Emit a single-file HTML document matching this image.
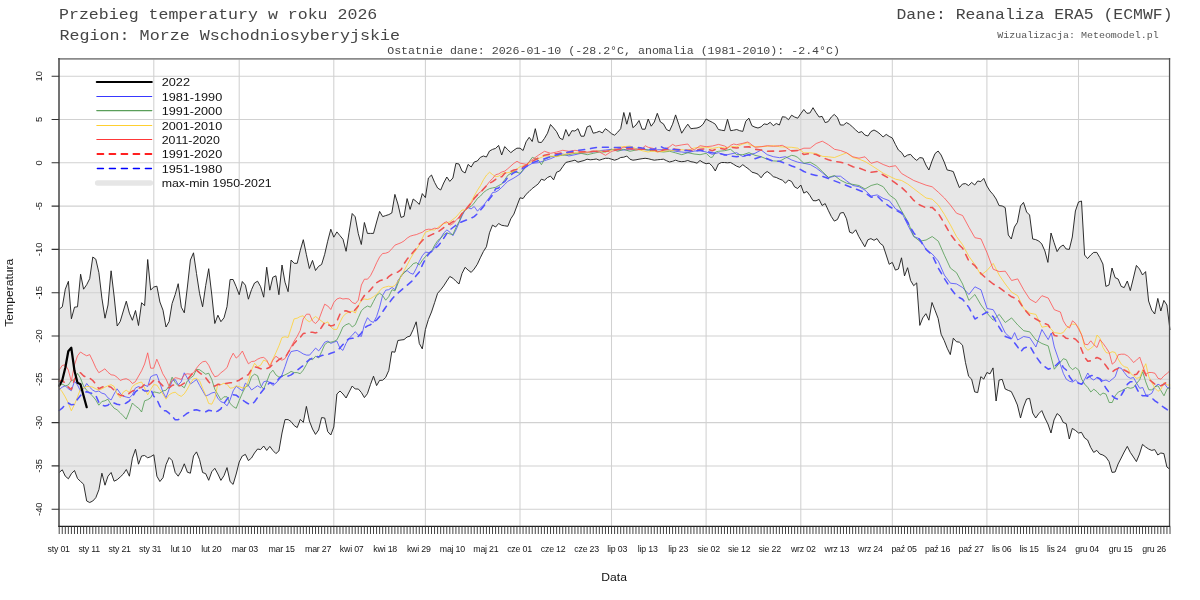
<!DOCTYPE html><html><head><meta charset="utf-8"><title>chart</title>
<style>html,body{margin:0;padding:0;background:#fff}svg{display:block;will-change:transform}text{font-family:"Liberation Sans",sans-serif;fill:#161616}.m{font-family:"Liberation Mono",monospace;fill:#454545}</style></head><body>
<svg width="1200" height="600" viewBox="0 0 1200 600">
<polygon points="59.2,309.2 62.3,306.8 65.3,289.2 68.4,281.3 71.4,318.8 74.5,307.2 77.5,306.8 80.6,274.2 83.6,289.2 86.7,284.7 89.7,278.7 92.8,257.0 95.8,259.2 98.9,272.7 101.9,298.2 105.0,318.2 108.0,305.0 111.1,270.8 114.1,296.0 117.2,326.0 120.2,321.5 123.3,311.0 126.3,301.2 129.4,313.2 132.4,320.3 135.5,310.5 138.5,325.5 141.6,302.7 144.6,305.7 147.7,259.5 150.7,290.0 153.8,287.0 156.9,286.2 159.9,302.0 163.0,310.2 166.0,327.0 169.1,321.5 172.1,303.5 175.2,294.5 178.2,283.7 181.3,307.2 184.3,312.8 187.4,287.0 190.4,260.0 193.5,252.8 196.5,273.5 199.6,293.7 202.6,306.8 205.7,285.5 208.7,268.7 211.8,295.0 214.8,323.5 217.9,315.2 220.9,321.7 224.0,317.8 227.0,306.7 230.1,279.5 233.1,279.5 236.2,286.7 239.2,294.7 242.3,281.5 245.4,285.2 248.4,299.2 251.5,289.7 254.5,283.0 257.6,281.2 260.6,286.7 263.7,297.2 266.7,267.2 269.8,290.2 272.8,277.3 275.9,275.8 278.9,294.7 282.0,265.0 285.0,282.2 288.1,291.7 291.1,260.0 294.2,263.3 297.2,263.3 300.3,250.2 303.3,239.7 306.4,254.7 309.4,268.5 312.5,260.4 315.5,270.5 318.6,266.3 321.6,264.5 324.7,254.3 327.7,241.2 330.8,229.2 333.8,237.2 336.9,231.9 340.0,235.7 343.0,239.3 346.1,251.3 349.1,232.2 352.2,213.5 355.2,216.8 358.3,233.7 361.3,244.5 364.4,222.5 367.4,233.4 370.5,233.4 373.5,233.4 376.6,222.0 379.6,211.4 382.7,216.6 385.7,215.6 388.8,214.6 391.8,213.0 394.9,194.4 397.9,204.0 401.0,217.4 404.0,216.4 407.1,198.6 410.1,209.4 413.2,199.0 416.2,201.4 419.3,204.4 422.3,193.6 425.4,197.6 428.4,178.0 431.5,175.0 434.6,182.4 437.6,188.0 440.7,190.0 443.7,183.0 446.8,177.0 449.8,181.4 452.9,178.0 455.9,163.4 459.0,164.0 462.0,171.0 465.1,173.0 468.1,164.4 471.2,167.0 474.2,162.0 477.3,161.0 480.3,157.4 483.4,156.0 486.4,157.0 489.5,151.0 492.5,149.4 495.6,148.4 498.6,145.4 501.7,155.0 504.7,146.6 507.8,149.7 510.8,152.7 513.9,150.2 516.9,148.2 520.0,148.2 523.1,150.5 526.1,141.8 529.2,137.3 532.2,141.5 535.3,128.7 538.3,142.2 541.4,142.5 544.4,138.5 547.5,133.2 550.5,124.5 553.6,128.0 556.6,131.7 559.7,138.0 562.7,139.7 565.8,129.5 568.8,136.2 571.9,130.7 574.9,131.0 578.0,128.7 581.0,136.2 584.1,136.2 587.1,126.9 590.2,125.7 593.2,133.2 596.3,132.5 599.3,131.3 602.4,132.9 605.4,128.7 608.5,131.0 611.5,133.7 614.6,135.2 617.7,132.2 620.7,128.7 623.8,112.5 626.8,124.2 629.9,112.5 632.9,127.7 636.0,125.0 639.0,120.5 642.1,129.2 645.1,129.2 648.2,119.0 651.2,126.2 654.3,122.0 657.3,113.3 660.4,122.0 663.4,123.8 666.5,129.5 669.5,131.0 672.6,124.2 675.6,114.9 678.7,124.2 681.7,133.2 684.8,128.3 687.8,124.2 690.9,128.7 693.9,128.3 697.0,128.0 700.0,126.9 703.1,124.2 706.1,119.0 709.2,120.8 712.3,122.3 715.3,124.2 718.4,129.5 721.4,130.2 724.5,130.7 727.5,119.3 730.6,130.7 733.6,130.2 736.7,129.5 739.7,130.7 742.8,131.4 745.8,121.2 748.9,118.2 751.9,125.7 755.0,127.2 758.0,128.0 761.1,126.8 764.1,123.9 767.2,124.5 770.2,122.3 773.3,125.7 776.3,123.5 779.4,125.0 782.4,116.7 785.5,117.2 788.5,119.7 791.6,115.2 794.6,117.0 797.7,118.2 800.8,113.7 803.8,109.5 806.9,113.3 809.9,113.0 813.0,107.7 816.0,112.6 819.1,117.0 822.1,116.4 825.2,122.6 828.2,121.6 831.3,117.0 834.3,114.4 837.4,117.6 840.4,125.0 843.5,125.0 846.5,122.6 849.6,124.4 852.6,127.0 855.7,130.0 858.7,132.6 861.8,131.6 864.8,135.0 867.9,136.0 870.9,131.6 874.0,130.0 877.0,131.6 880.1,134.0 883.1,137.0 886.2,134.4 889.2,136.4 892.3,138.0 895.4,144.4 898.4,150.0 901.5,152.4 904.5,157.0 907.6,155.0 910.6,154.4 913.7,158.0 916.7,160.4 919.8,157.6 922.8,158.0 925.9,165.0 928.9,170.0 932.0,161.0 935.0,153.6 938.1,151.0 941.1,155.0 944.2,162.0 947.2,170.0 950.3,170.6 953.3,171.6 956.4,180.0 959.4,187.6 962.5,184.0 965.5,183.6 968.6,185.6 971.6,182.4 974.7,185.0 977.7,181.0 980.8,181.6 983.8,178.4 986.9,186.0 990.0,191.0 993.0,194.4 996.1,199.0 999.1,205.6 1002.2,206.0 1005.2,207.6 1008.3,235.0 1011.3,239.0 1014.4,227.0 1017.4,222.4 1020.5,206.0 1023.5,202.4 1026.6,212.0 1029.6,215.0 1032.7,239.0 1035.7,239.6 1038.8,241.0 1041.8,244.0 1044.9,251.0 1047.9,262.4 1051.0,233.0 1054.0,242.4 1057.1,251.6 1060.1,247.0 1063.2,245.0 1066.2,249.0 1069.3,249.4 1072.3,237.0 1075.4,211.0 1078.5,202.0 1081.5,201.0 1084.6,255.0 1087.6,258.6 1090.7,255.0 1093.7,252.4 1096.8,252.4 1099.8,257.6 1102.9,264.0 1105.9,286.4 1109.0,285.0 1112.0,268.0 1115.1,277.6 1118.1,279.0 1121.2,286.4 1124.2,287.6 1127.3,281.0 1130.3,290.6 1133.4,278.0 1136.4,265.4 1139.5,269.0 1142.5,275.0 1145.6,271.6 1148.6,301.0 1151.7,310.0 1154.7,314.0 1157.8,298.4 1160.8,311.0 1163.9,300.4 1166.9,305.0 1170.0,330.0 1170.0,469.4 1166.9,467.0 1163.9,453.6 1160.8,453.0 1157.8,455.0 1154.7,449.6 1151.7,450.4 1148.6,449.0 1145.6,447.0 1142.5,444.4 1139.5,454.0 1136.4,461.6 1133.4,457.0 1130.3,452.4 1127.3,446.4 1124.2,452.0 1121.2,458.0 1118.1,464.0 1115.1,472.0 1112.0,472.4 1109.0,461.6 1105.9,457.0 1102.9,455.0 1099.8,454.0 1096.8,450.4 1093.7,452.4 1090.7,447.4 1087.6,440.0 1084.6,438.0 1081.5,432.4 1078.5,433.0 1075.4,430.4 1072.3,428.4 1069.3,439.0 1066.2,423.6 1063.2,422.4 1060.1,416.0 1057.1,413.6 1054.0,420.0 1051.0,433.0 1047.9,424.0 1044.9,418.0 1041.8,410.6 1038.8,413.6 1035.7,418.0 1032.7,413.0 1029.6,398.4 1026.6,399.0 1023.5,407.0 1020.5,418.0 1017.4,405.0 1014.4,398.0 1011.3,391.6 1008.3,390.4 1005.2,389.0 1002.2,379.4 999.1,380.0 996.1,401.0 993.0,367.9 990.0,373.9 986.9,372.5 983.8,379.1 980.8,376.7 977.7,392.6 974.7,391.9 971.6,379.1 968.6,376.3 965.5,362.7 962.5,345.2 959.4,342.2 956.4,341.7 953.3,338.2 950.3,354.6 947.2,348.2 944.2,340.5 941.1,334.2 938.1,318.4 935.0,310.2 932.0,302.5 928.9,320.2 925.9,313.7 922.8,317.9 919.8,325.4 916.7,282.9 913.7,285.7 910.6,280.5 907.6,267.7 904.5,275.9 901.5,257.8 898.4,269.0 895.4,270.1 892.3,262.4 889.2,264.3 886.2,255.0 883.1,245.6 880.1,243.3 877.0,238.6 874.0,240.3 870.9,238.6 867.9,239.8 864.8,246.8 861.8,241.7 858.7,236.3 855.7,229.8 852.6,233.3 849.6,232.1 846.5,218.8 843.5,212.5 840.4,213.0 837.4,219.5 834.3,221.1 831.3,216.5 828.2,210.2 825.2,203.6 822.1,205.5 819.1,199.4 816.0,200.8 813.0,200.6 809.9,195.5 806.9,191.5 803.8,193.1 800.8,185.0 797.7,188.5 794.6,186.9 791.6,181.5 788.5,180.0 785.5,183.2 782.4,180.2 779.4,179.0 776.3,177.5 773.3,176.7 770.2,173.7 767.2,171.5 764.1,173.7 761.1,177.8 758.0,174.2 755.0,173.0 751.9,172.2 748.9,169.2 745.8,167.0 742.8,164.7 739.7,167.3 736.7,166.2 733.6,164.3 730.6,162.5 727.5,162.8 724.5,162.5 721.4,162.5 718.4,164.0 715.3,171.0 712.3,166.2 709.2,163.2 706.1,163.7 703.1,162.5 700.0,160.5 697.0,163.2 693.9,162.2 690.9,161.7 687.8,160.5 684.8,161.4 681.7,161.7 678.7,161.3 675.6,160.2 672.6,161.3 669.5,162.0 666.5,160.7 663.4,159.2 660.4,159.5 657.3,159.8 654.3,160.2 651.2,159.5 648.2,158.7 645.1,158.3 642.1,158.7 639.0,159.2 636.0,159.8 632.9,160.2 629.9,159.2 626.8,156.0 623.8,157.2 620.7,157.5 617.7,159.2 614.6,160.2 611.5,159.2 608.5,158.3 605.4,158.3 602.4,159.2 599.3,160.2 596.3,159.0 593.2,159.5 590.2,159.8 587.1,159.2 584.1,160.5 581.0,161.3 578.0,162.2 574.9,160.2 571.9,161.0 568.8,161.7 565.8,162.5 562.7,166.7 559.7,171.0 556.6,172.2 553.6,179.9 550.5,176.1 547.5,177.5 544.4,180.3 541.4,179.2 538.3,183.8 535.3,186.2 532.2,188.5 529.2,191.5 526.1,194.3 523.1,198.5 520.0,197.8 516.9,206.0 513.9,214.1 510.8,218.8 507.8,226.3 504.7,225.8 501.7,225.3 498.6,223.5 495.6,227.0 492.5,225.1 489.5,232.8 486.4,246.8 483.4,251.5 480.3,257.8 477.3,264.3 474.2,269.0 471.2,272.4 468.1,270.1 465.1,267.3 462.0,273.5 459.0,284.0 455.9,281.2 452.9,278.2 449.8,276.5 446.8,281.0 443.7,285.9 440.7,289.8 437.6,293.3 434.6,302.7 431.5,312.0 428.4,319.5 425.4,329.5 422.3,348.9 419.3,343.5 416.2,321.8 413.2,329.5 410.1,336.1 407.1,337.0 404.0,339.6 401.0,340.0 397.9,340.5 394.9,352.2 391.8,351.7 388.8,370.4 385.7,377.4 382.7,380.2 379.6,380.4 376.6,385.6 373.5,376.2 370.5,384.4 367.4,393.7 364.4,397.6 361.3,392.4 358.3,389.0 355.2,389.0 352.2,386.0 349.1,392.0 346.1,398.0 343.0,394.0 340.0,391.0 336.9,394.0 333.8,427.0 330.8,435.0 327.7,431.6 324.7,418.0 321.6,417.6 318.6,430.0 315.5,434.4 312.5,429.0 309.4,421.0 306.4,406.4 303.3,422.4 300.3,419.4 297.2,427.6 294.2,425.6 291.1,421.6 288.1,419.6 285.0,419.6 282.0,433.0 278.9,451.0 275.9,453.6 272.8,450.4 269.8,446.4 266.7,450.4 263.7,446.0 260.6,449.6 257.6,449.0 254.5,453.0 251.5,458.0 248.4,460.6 245.4,454.4 242.3,456.0 239.2,462.0 236.2,474.0 233.1,484.4 230.1,481.6 227.0,467.6 224.0,475.6 220.9,480.4 217.9,474.0 214.8,468.3 211.8,471.7 208.7,480.3 205.7,473.7 202.6,472.5 199.6,459.7 196.5,451.9 193.5,456.0 190.4,473.2 187.4,472.2 184.3,463.8 181.3,471.0 178.2,476.2 175.2,472.5 172.1,460.5 169.1,457.5 166.0,464.7 163.0,477.7 159.9,481.5 156.9,476.2 153.8,454.8 150.7,456.7 147.7,457.8 144.6,455.5 141.6,456.0 138.5,464.2 135.5,449.2 132.4,458.2 129.4,476.2 126.3,469.5 123.3,474.0 120.2,477.0 117.2,479.7 114.1,481.2 111.1,472.5 108.0,476.2 105.0,485.2 101.9,473.2 98.9,489.7 95.8,497.7 92.8,501.0 89.7,502.5 86.7,501.0 83.6,484.2 80.6,481.5 77.5,478.5 74.5,470.5 71.4,473.7 68.4,478.8 65.3,476.2 62.3,469.8 59.2,472.5" fill="#e7e7e7"/>
<path d="M59.2 76.2H1170.0M59.2 119.5H1170.0M59.2 162.8H1170.0M59.2 206.1H1170.0M59.2 249.4H1170.0M59.2 292.7H1170.0M59.2 336.0H1170.0M59.2 379.3H1170.0M59.2 422.6H1170.0M59.2 465.9H1170.0M59.2 509.2H1170.0M153.8 59.5V526.6M239.2 59.5V526.6M333.8 59.5V526.6M425.4 59.5V526.6M520.0 59.5V526.6M611.5 59.5V526.6M706.1 59.5V526.6M800.8 59.5V526.6M892.3 59.5V526.6M986.9 59.5V526.6M1078.5 59.5V526.6" stroke="#d1d1d1" stroke-width="1.05" fill="none"/>
<polyline points="59.2,309.2 62.3,306.8 65.3,289.2 68.4,281.3 71.4,318.8 74.5,307.2 77.5,306.8 80.6,274.2 83.6,289.2 86.7,284.7 89.7,278.7 92.8,257.0 95.8,259.2 98.9,272.7 101.9,298.2 105.0,318.2 108.0,305.0 111.1,270.8 114.1,296.0 117.2,326.0 120.2,321.5 123.3,311.0 126.3,301.2 129.4,313.2 132.4,320.3 135.5,310.5 138.5,325.5 141.6,302.7 144.6,305.7 147.7,259.5 150.7,290.0 153.8,287.0 156.9,286.2 159.9,302.0 163.0,310.2 166.0,327.0 169.1,321.5 172.1,303.5 175.2,294.5 178.2,283.7 181.3,307.2 184.3,312.8 187.4,287.0 190.4,260.0 193.5,252.8 196.5,273.5 199.6,293.7 202.6,306.8 205.7,285.5 208.7,268.7 211.8,295.0 214.8,323.5 217.9,315.2 220.9,321.7 224.0,317.8 227.0,306.7 230.1,279.5 233.1,279.5 236.2,286.7 239.2,294.7 242.3,281.5 245.4,285.2 248.4,299.2 251.5,289.7 254.5,283.0 257.6,281.2 260.6,286.7 263.7,297.2 266.7,267.2 269.8,290.2 272.8,277.3 275.9,275.8 278.9,294.7 282.0,265.0 285.0,282.2 288.1,291.7 291.1,260.0 294.2,263.3 297.2,263.3 300.3,250.2 303.3,239.7 306.4,254.7 309.4,268.5 312.5,260.4 315.5,270.5 318.6,266.3 321.6,264.5 324.7,254.3 327.7,241.2 330.8,229.2 333.8,237.2 336.9,231.9 340.0,235.7 343.0,239.3 346.1,251.3 349.1,232.2 352.2,213.5 355.2,216.8 358.3,233.7 361.3,244.5 364.4,222.5 367.4,233.4 370.5,233.4 373.5,233.4 376.6,222.0 379.6,211.4 382.7,216.6 385.7,215.6 388.8,214.6 391.8,213.0 394.9,194.4 397.9,204.0 401.0,217.4 404.0,216.4 407.1,198.6 410.1,209.4 413.2,199.0 416.2,201.4 419.3,204.4 422.3,193.6 425.4,197.6 428.4,178.0 431.5,175.0 434.6,182.4 437.6,188.0 440.7,190.0 443.7,183.0 446.8,177.0 449.8,181.4 452.9,178.0 455.9,163.4 459.0,164.0 462.0,171.0 465.1,173.0 468.1,164.4 471.2,167.0 474.2,162.0 477.3,161.0 480.3,157.4 483.4,156.0 486.4,157.0 489.5,151.0 492.5,149.4 495.6,148.4 498.6,145.4 501.7,155.0 504.7,146.6 507.8,149.7 510.8,152.7 513.9,150.2 516.9,148.2 520.0,148.2 523.1,150.5 526.1,141.8 529.2,137.3 532.2,141.5 535.3,128.7 538.3,142.2 541.4,142.5 544.4,138.5 547.5,133.2 550.5,124.5 553.6,128.0 556.6,131.7 559.7,138.0 562.7,139.7 565.8,129.5 568.8,136.2 571.9,130.7 574.9,131.0 578.0,128.7 581.0,136.2 584.1,136.2 587.1,126.9 590.2,125.7 593.2,133.2 596.3,132.5 599.3,131.3 602.4,132.9 605.4,128.7 608.5,131.0 611.5,133.7 614.6,135.2 617.7,132.2 620.7,128.7 623.8,112.5 626.8,124.2 629.9,112.5 632.9,127.7 636.0,125.0 639.0,120.5 642.1,129.2 645.1,129.2 648.2,119.0 651.2,126.2 654.3,122.0 657.3,113.3 660.4,122.0 663.4,123.8 666.5,129.5 669.5,131.0 672.6,124.2 675.6,114.9 678.7,124.2 681.7,133.2 684.8,128.3 687.8,124.2 690.9,128.7 693.9,128.3 697.0,128.0 700.0,126.9 703.1,124.2 706.1,119.0 709.2,120.8 712.3,122.3 715.3,124.2 718.4,129.5 721.4,130.2 724.5,130.7 727.5,119.3 730.6,130.7 733.6,130.2 736.7,129.5 739.7,130.7 742.8,131.4 745.8,121.2 748.9,118.2 751.9,125.7 755.0,127.2 758.0,128.0 761.1,126.8 764.1,123.9 767.2,124.5 770.2,122.3 773.3,125.7 776.3,123.5 779.4,125.0 782.4,116.7 785.5,117.2 788.5,119.7 791.6,115.2 794.6,117.0 797.7,118.2 800.8,113.7 803.8,109.5 806.9,113.3 809.9,113.0 813.0,107.7 816.0,112.6 819.1,117.0 822.1,116.4 825.2,122.6 828.2,121.6 831.3,117.0 834.3,114.4 837.4,117.6 840.4,125.0 843.5,125.0 846.5,122.6 849.6,124.4 852.6,127.0 855.7,130.0 858.7,132.6 861.8,131.6 864.8,135.0 867.9,136.0 870.9,131.6 874.0,130.0 877.0,131.6 880.1,134.0 883.1,137.0 886.2,134.4 889.2,136.4 892.3,138.0 895.4,144.4 898.4,150.0 901.5,152.4 904.5,157.0 907.6,155.0 910.6,154.4 913.7,158.0 916.7,160.4 919.8,157.6 922.8,158.0 925.9,165.0 928.9,170.0 932.0,161.0 935.0,153.6 938.1,151.0 941.1,155.0 944.2,162.0 947.2,170.0 950.3,170.6 953.3,171.6 956.4,180.0 959.4,187.6 962.5,184.0 965.5,183.6 968.6,185.6 971.6,182.4 974.7,185.0 977.7,181.0 980.8,181.6 983.8,178.4 986.9,186.0 990.0,191.0 993.0,194.4 996.1,199.0 999.1,205.6 1002.2,206.0 1005.2,207.6 1008.3,235.0 1011.3,239.0 1014.4,227.0 1017.4,222.4 1020.5,206.0 1023.5,202.4 1026.6,212.0 1029.6,215.0 1032.7,239.0 1035.7,239.6 1038.8,241.0 1041.8,244.0 1044.9,251.0 1047.9,262.4 1051.0,233.0 1054.0,242.4 1057.1,251.6 1060.1,247.0 1063.2,245.0 1066.2,249.0 1069.3,249.4 1072.3,237.0 1075.4,211.0 1078.5,202.0 1081.5,201.0 1084.6,255.0 1087.6,258.6 1090.7,255.0 1093.7,252.4 1096.8,252.4 1099.8,257.6 1102.9,264.0 1105.9,286.4 1109.0,285.0 1112.0,268.0 1115.1,277.6 1118.1,279.0 1121.2,286.4 1124.2,287.6 1127.3,281.0 1130.3,290.6 1133.4,278.0 1136.4,265.4 1139.5,269.0 1142.5,275.0 1145.6,271.6 1148.6,301.0 1151.7,310.0 1154.7,314.0 1157.8,298.4 1160.8,311.0 1163.9,300.4 1166.9,305.0 1170.0,330.0" fill="none" stroke="#1c1c1c" stroke-width="0.92" stroke-linejoin="round"/>
<polyline points="59.2,472.5 62.3,469.8 65.3,476.2 68.4,478.8 71.4,473.7 74.5,470.5 77.5,478.5 80.6,481.5 83.6,484.2 86.7,501.0 89.7,502.5 92.8,501.0 95.8,497.7 98.9,489.7 101.9,473.2 105.0,485.2 108.0,476.2 111.1,472.5 114.1,481.2 117.2,479.7 120.2,477.0 123.3,474.0 126.3,469.5 129.4,476.2 132.4,458.2 135.5,449.2 138.5,464.2 141.6,456.0 144.6,455.5 147.7,457.8 150.7,456.7 153.8,454.8 156.9,476.2 159.9,481.5 163.0,477.7 166.0,464.7 169.1,457.5 172.1,460.5 175.2,472.5 178.2,476.2 181.3,471.0 184.3,463.8 187.4,472.2 190.4,473.2 193.5,456.0 196.5,451.9 199.6,459.7 202.6,472.5 205.7,473.7 208.7,480.3 211.8,471.7 214.8,468.3 217.9,474.0 220.9,480.4 224.0,475.6 227.0,467.6 230.1,481.6 233.1,484.4 236.2,474.0 239.2,462.0 242.3,456.0 245.4,454.4 248.4,460.6 251.5,458.0 254.5,453.0 257.6,449.0 260.6,449.6 263.7,446.0 266.7,450.4 269.8,446.4 272.8,450.4 275.9,453.6 278.9,451.0 282.0,433.0 285.0,419.6 288.1,419.6 291.1,421.6 294.2,425.6 297.2,427.6 300.3,419.4 303.3,422.4 306.4,406.4 309.4,421.0 312.5,429.0 315.5,434.4 318.6,430.0 321.6,417.6 324.7,418.0 327.7,431.6 330.8,435.0 333.8,427.0 336.9,394.0 340.0,391.0 343.0,394.0 346.1,398.0 349.1,392.0 352.2,386.0 355.2,389.0 358.3,389.0 361.3,392.4 364.4,397.6 367.4,393.7 370.5,384.4 373.5,376.2 376.6,385.6 379.6,380.4 382.7,380.2 385.7,377.4 388.8,370.4 391.8,351.7 394.9,352.2 397.9,340.5 401.0,340.0 404.0,339.6 407.1,337.0 410.1,336.1 413.2,329.5 416.2,321.8 419.3,343.5 422.3,348.9 425.4,329.5 428.4,319.5 431.5,312.0 434.6,302.7 437.6,293.3 440.7,289.8 443.7,285.9 446.8,281.0 449.8,276.5 452.9,278.2 455.9,281.2 459.0,284.0 462.0,273.5 465.1,267.3 468.1,270.1 471.2,272.4 474.2,269.0 477.3,264.3 480.3,257.8 483.4,251.5 486.4,246.8 489.5,232.8 492.5,225.1 495.6,227.0 498.6,223.5 501.7,225.3 504.7,225.8 507.8,226.3 510.8,218.8 513.9,214.1 516.9,206.0 520.0,197.8 523.1,198.5 526.1,194.3 529.2,191.5 532.2,188.5 535.3,186.2 538.3,183.8 541.4,179.2 544.4,180.3 547.5,177.5 550.5,176.1 553.6,179.9 556.6,172.2 559.7,171.0 562.7,166.7 565.8,162.5 568.8,161.7 571.9,161.0 574.9,160.2 578.0,162.2 581.0,161.3 584.1,160.5 587.1,159.2 590.2,159.8 593.2,159.5 596.3,159.0 599.3,160.2 602.4,159.2 605.4,158.3 608.5,158.3 611.5,159.2 614.6,160.2 617.7,159.2 620.7,157.5 623.8,157.2 626.8,156.0 629.9,159.2 632.9,160.2 636.0,159.8 639.0,159.2 642.1,158.7 645.1,158.3 648.2,158.7 651.2,159.5 654.3,160.2 657.3,159.8 660.4,159.5 663.4,159.2 666.5,160.7 669.5,162.0 672.6,161.3 675.6,160.2 678.7,161.3 681.7,161.7 684.8,161.4 687.8,160.5 690.9,161.7 693.9,162.2 697.0,163.2 700.0,160.5 703.1,162.5 706.1,163.7 709.2,163.2 712.3,166.2 715.3,171.0 718.4,164.0 721.4,162.5 724.5,162.5 727.5,162.8 730.6,162.5 733.6,164.3 736.7,166.2 739.7,167.3 742.8,164.7 745.8,167.0 748.9,169.2 751.9,172.2 755.0,173.0 758.0,174.2 761.1,177.8 764.1,173.7 767.2,171.5 770.2,173.7 773.3,176.7 776.3,177.5 779.4,179.0 782.4,180.2 785.5,183.2 788.5,180.0 791.6,181.5 794.6,186.9 797.7,188.5 800.8,185.0 803.8,193.1 806.9,191.5 809.9,195.5 813.0,200.6 816.0,200.8 819.1,199.4 822.1,205.5 825.2,203.6 828.2,210.2 831.3,216.5 834.3,221.1 837.4,219.5 840.4,213.0 843.5,212.5 846.5,218.8 849.6,232.1 852.6,233.3 855.7,229.8 858.7,236.3 861.8,241.7 864.8,246.8 867.9,239.8 870.9,238.6 874.0,240.3 877.0,238.6 880.1,243.3 883.1,245.6 886.2,255.0 889.2,264.3 892.3,262.4 895.4,270.1 898.4,269.0 901.5,257.8 904.5,275.9 907.6,267.7 910.6,280.5 913.7,285.7 916.7,282.9 919.8,325.4 922.8,317.9 925.9,313.7 928.9,320.2 932.0,302.5 935.0,310.2 938.1,318.4 941.1,334.2 944.2,340.5 947.2,348.2 950.3,354.6 953.3,338.2 956.4,341.7 959.4,342.2 962.5,345.2 965.5,362.7 968.6,376.3 971.6,379.1 974.7,391.9 977.7,392.6 980.8,376.7 983.8,379.1 986.9,372.5 990.0,373.9 993.0,367.9 996.1,401.0 999.1,380.0 1002.2,379.4 1005.2,389.0 1008.3,390.4 1011.3,391.6 1014.4,398.0 1017.4,405.0 1020.5,418.0 1023.5,407.0 1026.6,399.0 1029.6,398.4 1032.7,413.0 1035.7,418.0 1038.8,413.6 1041.8,410.6 1044.9,418.0 1047.9,424.0 1051.0,433.0 1054.0,420.0 1057.1,413.6 1060.1,416.0 1063.2,422.4 1066.2,423.6 1069.3,439.0 1072.3,428.4 1075.4,430.4 1078.5,433.0 1081.5,432.4 1084.6,438.0 1087.6,440.0 1090.7,447.4 1093.7,452.4 1096.8,450.4 1099.8,454.0 1102.9,455.0 1105.9,457.0 1109.0,461.6 1112.0,472.4 1115.1,472.0 1118.1,464.0 1121.2,458.0 1124.2,452.0 1127.3,446.4 1130.3,452.4 1133.4,457.0 1136.4,461.6 1139.5,454.0 1142.5,444.4 1145.6,447.0 1148.6,449.0 1151.7,450.4 1154.7,449.6 1157.8,455.0 1160.8,453.0 1163.9,453.6 1166.9,467.0 1170.0,469.4" fill="none" stroke="#1c1c1c" stroke-width="0.92" stroke-linejoin="round"/>
<polyline points="59.2,389.5 62.2,387.2 65.3,385.8 68.3,388.8 71.3,390.7 74.5,381.2 77.5,385.0 80.5,391.0 83.7,388.8 86.7,383.5 89.7,387.2 92.8,390.2 95.8,391.8 98.8,391.0 101.9,393.2 104.9,394.0 107.9,397.8 111.1,400.0 114.1,394.0 117.1,388.8 120.2,393.2 123.2,396.2 126.2,397.0 129.4,397.8 132.4,394.8 135.4,388.0 138.6,386.5 141.6,388.0 144.6,385.0 147.7,386.5 150.7,376.8 153.7,375.2 156.8,374.5 159.8,382.8 162.8,391.8 166.0,397.8 169.1,389.2 172.1,381.0 175.2,379.5 178.2,384.8 181.2,381.8 184.3,372.8 187.3,378.0 190.5,384.0 193.5,381.8 196.5,379.5 199.7,385.5 202.7,390.8 205.7,396.0 208.7,394.8 211.8,393.0 214.8,392.2 217.8,398.2 220.9,401.7 223.9,402.8 227.1,405.8 230.1,399.8 233.2,390.8 236.2,386.2 239.2,388.5 242.4,390.8 245.4,383.2 248.4,385.5 251.6,390.0 254.6,387.8 257.6,385.8 260.7,387.8 263.7,381.8 266.7,381.0 269.9,382.5 272.9,385.5 275.9,383.1 279.0,379.6 282.0,374.9 285.0,366.7 288.1,357.4 291.1,351.6 294.1,350.9 297.2,350.4 300.2,352.0 303.2,353.9 306.5,355.1 309.6,355.1 312.6,351.6 315.6,348.1 318.7,350.9 321.7,346.9 324.7,342.2 327.8,341.1 330.8,343.4 333.8,342.2 336.9,341.1 339.9,348.1 342.9,350.4 346.0,343.4 349.2,338.2 352.3,335.2 355.3,331.7 358.3,335.2 361.4,336.4 364.4,324.7 367.5,317.7 370.5,321.2 373.5,322.4 376.6,316.5 379.6,307.2 382.6,295.5 385.7,290.2 388.7,289.7 392.0,287.4 395.0,289.7 398.1,280.1 401.1,276.6 404.1,271.9 407.2,270.7 410.2,273.1 413.2,274.2 416.3,268.4 419.3,261.4 422.4,255.6 425.4,252.1 428.4,252.5 431.7,252.1 434.7,247.4 437.8,242.7 440.8,238.1 443.8,232.9 446.9,229.9 449.9,232.2 452.9,235.7 456.0,229.9 459.0,222.9 462.0,215.9 465.1,210.0 468.1,207.7 471.1,208.9 474.2,206.5 477.5,211.2 480.5,207.7 483.5,205.4 486.6,201.2 489.6,197.2 492.6,192.5 495.7,192.0 498.7,190.2 501.8,187.3 504.8,184.4 507.8,181.3 513.9,178.0 520.1,174.0 526.2,166.7 532.3,163.3 538.3,162.7 544.5,160.7 550.6,158.7 556.7,156.0 562.7,154.0 568.9,156.0 575.0,154.7 581.1,153.3 587.3,152.7 593.3,152.0 599.4,150.7 605.5,150.0 611.7,149.3 617.7,150.0 623.8,150.0 629.9,149.7 636.1,148.7 642.1,149.3 648.2,150.0 651.3,148.7 654.3,150.0 657.4,149.7 663.5,149.7 669.7,150.0 675.7,151.3 681.8,152.0 687.9,152.7 694.1,151.1 700.1,150.7 706.2,152.0 712.3,154.3 718.5,152.7 724.6,155.3 730.6,154.0 736.7,152.7 742.9,156.7 749.0,154.7 755.0,153.3 761.1,150.0 767.3,154.7 773.4,156.7 779.5,157.7 785.5,156.7 791.7,160.0 797.8,162.2 803.9,163.3 810.2,164.5 816.2,168.0 822.3,172.7 828.4,177.8 834.5,176.2 840.5,176.2 846.6,180.9 852.9,185.5 859.0,186.7 865.0,190.2 871.1,196.0 877.2,194.9 883.2,198.4 889.3,200.7 895.6,208.9 901.6,212.0 907.7,224.9 913.8,236.5 919.8,238.9 926.1,249.4 932.2,254.0 938.3,261.1 944.4,275.1 950.4,283.2 956.5,283.9 962.6,287.5 968.9,294.5 974.9,286.8 981.0,289.8 987.1,308.5 993.2,309.7 999.2,320.2 1005.3,333.0 1011.6,338.9 1014.6,332.6 1017.7,340.0 1023.7,336.5 1029.8,337.7 1035.9,347.0 1041.9,329.5 1048.2,339.6 1051.3,333.0 1054.3,347.0 1060.4,364.6 1063.3,373.3 1066.3,379.2 1069.5,381.3 1072.5,382.0 1075.5,380.0 1078.7,383.0 1081.7,384.2 1084.7,379.2 1087.8,373.0 1090.8,378.3 1093.8,380.0 1097.0,377.5 1100.0,378.3 1103.0,380.8 1106.0,380.0 1109.2,381.7 1112.2,379.2 1115.2,376.7 1118.3,367.5 1121.3,368.3 1124.3,372.5 1127.5,376.7 1130.5,378.3 1133.5,377.5 1136.7,383.3 1139.7,388.3 1142.7,387.5 1145.8,395.0 1148.8,395.0 1151.8,393.3 1155.0,386.7 1158.0,384.2 1161.0,385.8 1164.0,383.0 1167.2,387.5 1169.8,388.3" fill="none" stroke="#4a4aff" stroke-width="0.8" stroke-linejoin="round" stroke-linecap="round"/>
<polyline points="59.2,385.0 62.2,384.2 65.3,385.8 68.3,385.0 71.3,380.5 74.5,379.8 77.5,373.3 80.5,378.2 83.7,386.5 86.7,390.2 89.7,393.2 92.8,396.2 95.8,400.0 98.8,405.2 101.9,401.5 104.9,400.8 107.9,399.2 111.1,404.5 114.1,408.2 117.1,409.8 120.2,412.8 123.2,415.8 126.2,419.2 129.4,411.2 132.4,403.0 135.4,406.0 138.6,408.2 141.6,412.0 144.6,400.8 147.7,399.7 150.7,397.8 153.7,391.8 156.8,392.5 159.8,393.2 162.8,391.0 166.0,390.2 169.1,386.2 172.1,377.2 175.2,382.5 178.2,385.8 181.2,385.5 184.3,387.8 187.3,381.0 190.5,378.0 193.5,375.8 196.5,369.3 199.7,369.8 202.7,372.0 205.7,374.2 208.7,373.2 211.8,379.5 214.8,389.2 217.8,394.5 220.9,399.8 223.9,396.8 227.1,396.8 230.1,403.5 233.2,406.5 236.2,408.3 239.2,400.5 242.4,393.0 245.4,387.0 248.4,385.5 251.6,376.5 254.6,374.2 257.6,375.8 260.7,385.5 263.7,389.2 266.7,381.8 269.9,373.5 272.9,370.2 275.9,374.9 279.0,377.2 282.0,376.1 285.0,374.9 288.1,373.3 291.1,371.4 294.1,372.6 297.2,372.6 300.2,373.7 303.2,370.2 306.5,364.4 309.6,358.6 312.6,359.7 315.6,356.2 318.7,357.9 321.7,351.6 324.7,344.6 327.8,342.2 330.8,342.2 333.8,341.5 336.9,339.9 339.9,334.0 342.9,327.0 346.0,324.7 349.2,323.5 352.3,327.0 355.3,324.7 358.3,317.7 361.4,310.7 364.4,307.9 367.5,306.0 370.5,307.2 373.5,301.4 376.6,295.5 379.6,293.2 382.6,295.5 385.7,300.2 388.7,296.7 392.0,289.7 395.0,290.9 401.1,275.4 404.1,273.1 407.2,269.6 410.2,267.2 413.2,263.7 416.3,262.6 419.3,264.9 422.4,260.2 425.4,256.7 428.4,253.2 431.7,250.9 434.7,245.1 437.8,240.4 440.8,238.1 443.8,234.6 446.9,232.9 449.9,233.9 452.9,234.6 456.0,227.5 459.0,221.7 462.0,214.7 465.1,210.0 468.1,207.7 471.1,206.5 474.2,203.0 477.5,198.4 480.5,196.0 483.5,192.5 486.6,190.2 489.6,188.6 492.6,187.9 495.7,187.3 498.7,185.5 501.8,184.0 504.8,179.7 507.8,175.3 513.9,171.3 520.1,173.3 526.2,166.0 532.3,157.3 538.3,160.0 541.4,164.7 544.5,159.3 550.6,156.7 556.7,156.0 562.7,155.3 568.9,154.7 575.0,153.3 581.1,153.3 587.3,154.7 593.3,153.3 599.4,152.0 605.5,152.0 611.7,149.3 617.7,151.3 623.8,149.3 629.9,151.3 636.1,150.0 642.1,149.3 648.2,150.0 651.3,150.7 654.3,150.7 657.4,151.3 663.5,152.0 669.7,151.3 675.7,152.9 681.8,154.7 687.9,152.7 694.1,154.0 700.1,154.7 706.2,153.3 710.3,157.3 712.3,157.3 715.7,152.0 718.5,151.3 724.6,150.7 730.6,149.3 736.7,154.7 742.9,154.7 749.0,152.7 755.0,155.3 761.1,156.7 767.3,159.3 773.4,160.9 779.5,161.3 785.5,158.0 791.7,155.3 795.0,156.0 797.8,157.5 803.9,163.3 810.2,162.2 816.2,165.7 822.3,171.5 828.4,177.4 834.5,175.5 840.5,180.2 846.6,183.2 852.9,184.4 859.0,185.5 865.0,189.0 871.1,185.5 877.2,183.9 883.2,186.7 889.3,194.9 895.6,199.5 901.6,210.9 907.7,221.4 913.8,236.5 919.8,241.2 926.1,240.0 932.2,236.5 938.3,241.2 944.4,255.2 950.4,268.1 956.5,272.7 962.6,284.0 968.9,300.4 974.9,294.5 981.0,305.0 987.1,313.2 993.2,320.2 999.2,314.4 1005.3,322.5 1011.6,317.9 1017.7,324.9 1023.7,330.7 1029.8,331.9 1035.9,340.0 1041.9,343.5 1048.2,345.9 1054.3,369.2 1060.4,362.2 1063.3,358.7 1066.3,359.7 1069.5,366.7 1072.5,369.7 1075.5,367.5 1078.7,370.0 1081.7,379.2 1084.7,384.2 1087.8,387.5 1090.8,392.0 1093.8,389.2 1097.0,391.7 1100.0,395.3 1103.0,393.0 1106.0,394.2 1109.2,402.5 1112.2,402.5 1115.2,395.8 1118.3,392.0 1121.3,390.8 1124.3,389.2 1127.5,387.5 1130.5,388.3 1133.5,387.5 1136.7,383.3 1139.7,379.7 1142.7,371.7 1145.8,382.0 1148.8,389.7 1151.8,390.0 1155.0,386.7 1158.0,385.8 1161.0,390.8 1164.0,395.8 1167.2,388.7 1169.8,387.5" fill="none" stroke="#4f9a4f" stroke-width="0.8" stroke-linejoin="round" stroke-linecap="round"/>
<polyline points="59.2,388.0 62.2,391.8 65.3,397.0 68.3,403.0 71.3,410.8 74.5,404.5 77.5,397.0 80.5,388.8 83.7,388.0 86.7,386.5 89.7,386.5 92.8,387.2 95.8,388.8 98.8,390.2 101.9,388.8 104.9,387.2 107.9,385.8 111.1,384.7 114.1,386.5 117.1,394.0 120.2,397.8 123.2,392.2 126.2,390.2 129.4,392.5 132.4,386.5 135.4,384.2 138.6,382.8 141.6,382.0 144.6,388.0 147.7,394.8 150.7,389.5 153.7,384.7 156.8,385.0 159.8,389.5 162.8,394.0 166.0,399.2 169.1,394.8 172.1,393.0 175.2,392.2 178.2,394.8 181.2,396.4 184.3,393.8 187.3,389.2 190.5,383.2 193.5,378.8 196.5,378.3 199.7,381.0 202.7,388.5 205.7,395.2 208.7,403.5 211.8,404.2 214.8,398.2 217.8,384.0 220.9,384.8 223.9,383.2 227.1,384.3 230.1,388.2 233.2,387.8 236.2,385.8 239.2,386.7 242.4,387.8 245.4,387.8 248.4,381.0 251.6,369.8 254.6,363.3 257.6,366.8 260.7,365.2 263.7,360.0 266.7,361.5 269.9,365.2 272.9,359.2 275.9,352.7 279.0,345.7 282.0,337.5 285.0,336.8 288.1,337.5 291.1,328.2 294.1,318.9 297.2,318.2 300.2,316.5 303.2,315.8 306.5,320.0 309.6,321.9 312.6,318.9 315.6,316.5 318.7,318.9 321.7,321.2 324.7,323.5 327.8,321.9 330.8,327.0 333.8,329.4 336.9,329.4 339.9,322.4 342.9,316.5 346.0,313.5 349.2,311.9 352.3,311.2 355.3,313.0 358.3,306.0 361.4,300.2 364.4,299.0 367.5,299.5 370.5,298.6 373.5,296.7 376.6,294.4 379.6,290.9 382.6,287.8 385.7,286.9 388.7,286.2 392.0,286.9 395.0,285.5 401.1,276.6 404.1,270.7 407.2,264.9 410.2,259.1 413.2,253.9 416.3,249.7 419.3,245.1 422.4,238.1 425.4,232.2 428.4,231.1 431.7,229.9 434.7,229.9 437.8,227.5 440.8,225.2 443.8,223.6 446.9,222.9 449.9,221.7 452.9,219.4 456.0,217.0 459.0,213.5 462.0,210.0 465.1,210.0 468.1,207.7 471.1,201.9 474.2,196.0 477.5,190.2 480.5,185.5 483.5,179.7 486.6,175.0 489.6,172.2 492.6,174.6 495.7,176.7 498.7,176.2 501.8,174.0 504.8,172.7 507.8,172.7 513.9,171.3 520.1,166.7 526.2,164.9 532.3,161.3 538.3,158.7 544.5,156.0 550.6,156.0 556.7,156.7 562.7,154.7 568.9,153.3 575.0,152.9 581.1,152.7 587.3,152.7 593.3,151.6 599.4,150.7 605.5,152.0 611.7,150.0 617.7,147.3 623.8,146.7 629.9,146.0 636.1,148.7 642.1,150.7 648.2,152.0 651.3,151.3 654.3,151.3 657.4,152.0 663.5,151.3 669.7,150.7 675.7,150.3 681.8,149.7 687.9,150.3 694.1,148.0 700.1,147.3 706.2,147.1 712.3,148.4 718.5,147.3 724.6,148.0 730.6,146.7 736.7,146.7 742.9,144.0 747.7,142.7 749.0,144.7 755.0,146.7 761.1,146.7 767.3,146.3 773.4,145.7 779.5,146.7 785.5,147.1 791.7,147.3 797.8,148.2 803.9,152.8 810.2,152.8 816.2,153.5 822.3,156.3 828.4,156.8 834.5,157.5 840.5,155.2 846.6,152.8 852.9,157.5 859.0,159.1 865.0,161.5 871.1,165.2 877.2,169.2 883.2,173.2 889.3,176.2 895.6,179.2 901.6,180.5 907.7,184.0 913.8,188.7 919.8,193.3 926.1,198.0 932.2,199.2 938.3,205.0 944.4,214.4 950.4,224.9 956.5,236.5 962.6,244.7 968.9,256.4 974.9,264.6 981.0,275.1 987.1,270.4 993.2,263.4 999.2,275.1 1005.3,284.0 1011.6,292.2 1017.7,295.7 1023.7,308.5 1029.8,313.2 1035.9,314.4 1041.9,327.2 1048.2,326.0 1054.3,332.6 1060.4,333.5 1063.3,332.5 1066.3,328.3 1069.5,325.8 1072.5,324.2 1075.5,324.2 1078.7,327.5 1081.7,335.0 1084.7,346.7 1087.8,350.3 1090.8,348.3 1093.8,345.8 1097.0,335.0 1100.0,338.3 1103.0,347.5 1106.0,352.5 1109.2,353.3 1112.2,351.7 1115.2,352.5 1118.3,359.2 1121.3,364.2 1124.3,366.7 1127.5,367.5 1130.5,373.3 1133.5,375.8 1136.7,378.3 1139.7,377.5 1142.7,370.0 1145.8,363.7 1148.8,376.7 1151.8,382.5 1155.0,388.3 1158.0,391.3 1161.0,389.2 1164.0,382.5 1167.2,385.0 1169.8,385.0" fill="none" stroke="#ffd030" stroke-width="0.8" stroke-linejoin="round" stroke-linecap="round"/>
<polyline points="59.2,370.0 62.2,365.5 65.3,364.8 68.3,370.0 71.3,381.2 74.5,364.8 77.5,355.8 80.5,352.0 83.7,354.2 86.7,355.8 89.7,354.6 92.8,361.0 95.8,367.8 98.8,372.7 101.9,370.8 104.9,368.8 107.9,372.2 111.1,374.8 114.1,375.2 117.1,377.2 120.2,380.5 123.2,379.3 126.2,378.7 129.4,380.2 132.4,383.5 135.4,381.7 138.6,376.0 141.6,370.8 144.6,364.0 147.7,352.8 150.7,368.2 153.7,368.2 156.8,359.2 159.8,366.2 162.8,373.8 166.0,379.0 169.1,386.2 172.1,380.2 175.2,377.7 178.2,378.3 181.2,379.5 184.3,374.7 187.3,373.8 190.5,374.2 193.5,372.8 196.5,368.2 199.7,364.2 202.7,361.8 205.7,361.2 208.7,365.2 211.8,372.0 214.8,376.8 217.8,375.8 220.9,372.8 223.9,370.5 227.1,367.5 230.1,359.2 233.2,353.2 236.2,358.1 239.2,355.5 242.4,351.0 245.4,357.8 248.4,363.8 251.6,361.5 254.6,361.2 257.6,359.2 260.7,357.8 263.7,357.4 266.7,360.0 269.9,366.8 272.9,360.0 275.9,356.2 279.0,358.6 282.0,360.2 285.0,358.6 288.1,352.7 291.1,346.9 294.1,341.1 297.2,336.4 300.2,330.5 303.2,318.9 306.5,314.2 309.6,314.2 312.6,321.2 315.6,323.5 318.7,320.0 321.7,311.9 324.7,304.2 327.8,306.0 330.8,309.5 333.8,302.5 336.9,299.0 339.9,297.9 342.9,299.0 346.0,298.6 349.2,299.0 352.3,302.5 355.3,303.7 358.3,300.2 361.4,285.0 364.4,279.2 367.5,279.2 370.5,275.7 373.5,269.8 376.6,262.8 379.6,257.0 382.6,253.5 385.7,253.2 388.7,252.1 392.0,248.6 395.0,245.1 398.1,243.9 401.1,242.7 404.1,240.9 407.2,238.1 410.2,236.2 413.2,235.3 416.3,234.6 419.3,233.4 422.4,232.2 425.4,229.9 428.4,229.2 431.7,229.4 434.7,228.2 437.8,228.7 440.8,226.4 443.8,222.9 446.9,221.7 449.9,225.2 452.9,223.6 456.0,220.5 459.0,217.0 462.0,213.5 465.1,210.0 468.1,207.7 471.1,203.5 474.2,198.4 477.5,194.2 480.5,191.8 483.5,189.0 486.6,185.5 489.6,181.6 492.6,178.5 495.7,174.7 498.7,173.9 501.8,172.0 504.8,171.1 507.8,168.7 513.9,163.3 517.0,161.3 520.1,163.1 526.2,164.4 532.3,159.6 538.3,155.3 544.5,151.3 550.6,153.3 556.7,152.0 562.7,150.3 568.9,151.3 575.0,150.3 581.1,151.3 587.3,152.0 593.3,151.3 599.4,152.0 605.5,155.3 611.7,151.3 617.7,150.0 623.8,147.1 629.9,148.4 636.1,150.0 642.1,148.7 645.1,145.7 648.2,147.3 651.3,148.0 654.3,148.7 657.4,152.0 663.5,150.0 669.7,146.7 672.6,144.4 675.7,146.0 681.8,144.9 687.9,144.0 691.0,148.0 694.1,150.0 700.1,145.7 706.2,146.7 712.3,146.0 718.5,144.4 724.6,146.0 727.7,148.0 730.6,145.3 733.7,144.0 736.7,144.7 742.9,143.3 747.7,142.0 749.0,142.7 755.0,147.3 761.1,146.7 767.3,145.7 773.4,146.3 779.5,145.7 782.3,145.3 785.5,147.1 791.7,151.3 797.8,150.5 803.9,148.2 810.2,148.2 816.2,143.5 822.3,141.2 828.4,144.7 834.5,149.3 840.5,150.5 846.6,152.8 852.9,156.8 859.0,158.2 865.0,156.8 871.1,163.3 877.2,161.5 883.2,164.5 889.3,166.8 895.6,165.7 901.6,173.5 907.7,177.0 913.8,180.5 919.8,182.8 926.1,185.2 932.2,186.8 938.3,192.2 944.4,198.0 950.4,205.0 956.5,213.2 962.6,215.5 968.9,227.2 974.9,237.7 981.0,238.9 987.1,252.9 993.2,269.2 999.2,271.6 1005.3,271.2 1011.6,280.5 1017.7,278.9 1023.7,289.8 1029.8,299.2 1035.9,302.7 1041.9,295.7 1048.2,298.0 1054.3,309.7 1060.4,312.0 1063.3,320.8 1066.3,325.8 1069.5,328.0 1072.5,320.8 1075.5,323.3 1078.7,329.2 1081.7,335.0 1084.7,344.2 1087.8,344.7 1090.8,340.8 1093.8,344.7 1097.0,347.5 1100.0,339.7 1103.0,343.3 1106.0,347.5 1109.2,352.5 1112.2,364.2 1115.2,361.7 1118.3,354.7 1121.3,354.2 1124.3,354.2 1127.5,355.8 1130.5,358.7 1133.5,362.5 1136.7,360.0 1139.7,357.0 1142.7,365.8 1145.8,374.2 1148.8,372.5 1151.8,372.5 1155.0,373.3 1158.0,378.3 1161.0,379.2 1164.0,375.8 1167.2,373.3 1169.8,370.8" fill="none" stroke="#ff5050" stroke-width="0.8" stroke-linejoin="round" stroke-linecap="round"/>
<polyline points="59.2,381.2 62.2,380.2 65.3,383.5 68.3,387.2 71.3,389.5 74.5,379.3 77.5,374.2 80.5,372.7 83.7,376.0 86.7,377.5 89.7,378.2 92.8,380.5 95.8,384.2 98.8,388.8 101.9,387.2 104.9,386.2 107.9,386.2 111.1,387.2 114.1,390.2 117.1,393.2 120.2,395.2 123.2,395.8 126.2,395.8 129.4,393.2 132.4,391.0 135.4,390.2 138.6,388.3 141.6,387.2 144.6,384.2 147.7,385.8 150.7,383.5 153.7,380.5 156.8,379.8 159.8,382.8 162.8,385.8 166.0,387.7 169.1,387.8 172.1,385.5 175.2,384.3 178.2,385.8 181.2,385.2 184.3,383.2 187.3,379.5 190.5,375.8 193.5,372.8 196.5,370.2 199.7,372.8 202.7,375.0 205.7,377.7 208.7,381.8 211.8,385.2 214.8,386.2 217.8,384.3 220.9,384.8 223.9,383.7 227.1,383.2 230.1,382.8 233.2,382.5 236.2,381.3 239.2,380.2 242.4,378.0 245.4,375.8 248.4,374.7 251.6,369.3 254.6,366.8 257.6,367.5 260.7,368.7 263.7,369.3 266.7,368.7 269.9,367.2 272.9,364.2 275.9,362.1 279.0,359.7 282.0,357.9 285.0,357.9 288.1,352.7 291.1,348.1 294.1,343.4 297.2,339.9 300.2,337.5 303.2,333.6 306.5,332.9 309.6,332.2 312.6,332.2 315.6,332.9 318.7,331.7 321.7,327.0 324.7,322.4 327.8,324.7 330.8,325.9 333.8,325.2 336.9,321.2 339.9,314.2 342.9,311.2 346.0,310.7 349.2,311.9 352.3,313.5 355.3,309.5 358.3,306.0 361.4,300.2 364.4,295.5 367.5,293.2 370.5,289.7 373.5,286.2 376.6,282.7 379.6,280.8 382.6,279.9 385.7,280.1 388.7,276.6 392.0,274.2 395.0,273.1 398.1,271.9 401.1,269.6 404.1,263.7 407.2,259.1 410.2,255.6 413.2,252.1 416.3,248.6 419.3,243.9 422.4,240.4 425.4,238.1 428.4,236.2 431.7,234.6 434.7,233.4 437.8,232.2 440.8,229.9 443.8,227.5 446.9,225.2 449.9,223.6 452.9,221.7 456.0,220.5 459.0,218.2 462.0,213.5 465.1,210.0 468.1,206.5 471.1,203.0 474.2,198.4 477.5,194.9 480.5,192.5 483.5,189.0 486.6,185.5 489.6,183.2 492.6,181.6 495.7,179.3 498.7,177.4 501.8,176.7 504.8,173.2 507.8,172.7 513.9,170.0 520.1,168.7 526.2,165.3 532.3,161.3 538.3,158.0 544.5,155.3 550.6,154.0 556.7,153.7 562.7,152.9 568.9,152.4 575.0,152.0 581.1,152.0 587.3,151.6 593.3,151.3 599.4,151.1 605.5,151.3 611.7,150.7 617.7,149.3 623.8,148.7 629.9,148.7 636.1,148.9 642.1,149.3 648.2,149.3 651.3,150.0 654.3,149.7 657.4,151.3 663.5,150.0 669.7,148.7 675.7,149.3 681.8,150.0 687.9,150.3 694.1,150.7 700.1,149.3 706.2,148.7 712.3,150.7 718.5,148.0 724.6,149.3 730.6,147.3 736.7,148.0 742.9,147.1 749.0,146.7 755.0,149.3 761.1,150.0 767.3,151.3 773.4,151.1 779.5,151.3 785.5,150.7 791.7,150.7 797.8,150.5 803.9,154.5 810.2,153.5 816.2,154.5 822.3,157.5 828.4,159.8 834.5,161.5 840.5,162.2 846.6,163.8 852.9,166.8 859.0,168.0 865.0,170.4 871.1,172.2 877.2,171.5 883.2,175.0 889.3,178.5 895.6,183.2 901.6,187.5 907.7,193.3 913.8,200.4 919.8,205.0 926.1,207.8 932.2,207.4 938.3,213.2 944.4,223.7 950.4,234.2 956.5,242.4 962.6,248.2 968.9,261.1 974.9,265.7 981.0,273.5 987.1,279.3 993.2,284.0 999.2,287.5 1005.3,292.2 1011.6,296.8 1017.7,299.2 1023.7,308.5 1029.8,315.5 1035.9,319.0 1041.9,322.5 1048.2,324.9 1054.3,335.4 1060.4,336.5 1063.3,335.8 1066.3,338.3 1069.5,338.7 1072.5,338.0 1075.5,339.2 1078.7,342.5 1081.7,350.0 1084.7,357.5 1087.8,361.3 1090.8,360.8 1093.8,359.2 1097.0,357.5 1100.0,358.7 1103.0,361.7 1106.0,365.8 1109.2,370.0 1112.2,372.0 1115.2,369.7 1118.3,368.3 1121.3,369.2 1124.3,370.0 1127.5,371.7 1130.5,374.2 1133.5,375.0 1136.7,374.2 1139.7,370.0 1142.7,369.2 1145.8,375.0 1148.8,379.2 1151.8,381.7 1155.0,384.2 1158.0,385.3 1161.0,385.8 1164.0,384.2 1167.2,381.7 1169.8,380.3" fill="none" stroke="#ee5252" stroke-width="1.55" stroke-linejoin="round" stroke-linecap="round" stroke-dasharray="6 6"/>
<polyline points="59.2,410.5 62.2,408.2 65.3,404.5 68.3,403.0 71.3,404.8 74.5,404.5 77.5,399.2 80.5,395.5 83.7,392.8 86.7,391.8 89.7,392.8 92.8,393.7 95.8,395.5 98.8,402.2 101.9,405.2 104.9,406.0 107.9,405.2 111.1,402.2 114.1,403.0 117.1,404.2 120.2,404.8 123.2,404.5 126.2,403.0 129.4,400.8 132.4,397.0 135.4,391.8 138.6,389.5 141.6,388.8 144.6,391.0 147.7,391.0 150.7,388.8 153.7,396.2 156.8,399.2 159.8,406.0 162.8,410.5 166.0,410.8 169.1,413.2 172.1,416.2 175.2,419.7 178.2,419.7 181.2,417.8 184.3,415.5 187.3,413.2 190.5,411.8 193.5,410.2 196.5,409.8 199.7,410.7 202.7,411.0 205.7,411.8 208.7,410.2 211.8,411.0 214.8,412.2 217.8,411.0 220.9,408.8 223.9,403.5 227.1,399.0 230.1,396.0 233.2,394.8 236.2,395.2 239.2,397.5 242.4,399.8 245.4,402.0 248.4,403.8 251.6,404.7 254.6,401.7 257.6,397.5 260.7,393.0 263.7,389.2 266.7,385.5 269.9,382.5 272.9,383.7 275.9,382.6 279.0,378.4 282.0,376.1 285.0,374.9 288.1,376.1 291.1,374.9 294.1,372.6 297.2,370.2 300.2,367.9 303.2,365.6 306.5,362.1 309.6,359.7 312.6,357.9 315.6,356.2 318.7,356.9 321.7,355.5 324.7,355.1 327.8,354.6 330.8,353.2 333.8,352.3 336.9,350.9 339.9,348.1 342.9,344.6 346.0,341.1 349.2,338.7 352.3,338.2 355.3,338.7 358.3,336.4 361.4,332.9 364.4,328.2 367.5,325.9 370.5,324.7 373.5,322.4 376.6,320.0 379.6,316.5 382.6,311.9 385.7,307.2 388.7,303.7 392.0,299.0 395.0,295.5 413.2,280.1 416.3,275.4 419.3,271.9 422.4,264.9 425.4,259.1 428.4,254.4 431.7,250.9 434.7,248.6 437.8,246.2 440.8,242.7 443.8,238.1 446.9,233.4 449.9,229.9 452.9,227.5 456.0,225.2 459.0,222.9 462.0,221.7 465.1,220.5 468.1,219.4 471.1,218.2 474.2,216.6 477.5,213.5 480.5,210.0 483.5,206.5 486.6,202.6 489.6,198.8 492.6,194.9 495.7,188.7 498.7,187.9 501.8,183.3 504.8,181.6 507.8,177.3 513.9,172.7 520.1,170.0 526.2,166.7 532.3,162.7 538.3,160.7 544.5,158.7 550.6,156.7 556.7,154.7 562.7,153.3 568.9,152.0 575.0,150.7 581.1,150.0 587.3,149.3 593.3,148.0 599.4,147.1 605.5,147.3 611.7,147.3 617.7,147.6 623.8,147.6 629.9,147.3 636.1,147.1 642.1,148.0 648.2,148.7 651.3,149.3 654.3,149.3 657.4,147.1 661.0,146.7 663.5,148.0 669.7,148.9 675.7,149.7 681.8,150.0 687.9,150.7 694.1,151.1 700.1,150.3 706.2,151.3 712.3,152.7 718.5,153.3 724.6,154.7 730.6,156.0 736.7,156.7 742.9,156.0 749.0,154.7 755.0,158.7 761.1,156.7 767.3,158.7 773.4,161.3 779.5,161.3 785.5,163.3 791.7,166.0 797.8,168.0 803.9,171.5 810.2,173.9 816.2,175.5 822.3,176.2 828.4,178.5 834.5,180.9 840.5,183.2 846.6,185.5 852.9,187.9 859.0,190.2 865.0,192.5 871.1,197.2 877.2,196.0 883.2,201.9 889.3,206.5 895.6,210.0 901.6,213.2 907.7,222.5 913.8,233.0 919.8,240.0 926.1,249.4 932.2,255.2 938.3,268.1 944.4,278.6 950.4,287.9 956.5,296.1 962.6,299.2 968.9,307.4 974.9,319.0 981.0,315.5 987.1,312.0 993.2,316.7 999.2,327.2 1005.3,336.5 1011.6,338.9 1017.7,347.0 1020.7,351.7 1023.7,348.2 1029.8,345.9 1035.9,356.4 1041.9,364.6 1048.2,369.2 1054.3,366.9 1060.4,361.1 1063.3,367.5 1066.3,370.0 1069.5,376.7 1072.5,380.8 1075.5,381.7 1078.7,383.3 1081.7,384.2 1084.7,380.8 1087.8,377.5 1090.8,375.8 1093.8,375.0 1097.0,377.5 1100.0,379.2 1103.0,383.0 1106.0,388.3 1109.2,392.5 1112.2,395.8 1115.2,398.3 1118.3,399.2 1121.3,395.0 1124.3,390.0 1127.5,384.2 1130.5,381.7 1133.5,381.7 1136.7,388.3 1139.7,394.2 1142.7,395.8 1145.8,395.8 1148.8,396.3 1151.8,398.0 1155.0,400.8 1158.0,403.0 1161.0,405.3 1164.0,407.5 1167.2,409.7 1169.8,411.3" fill="none" stroke="#5252ff" stroke-width="1.55" stroke-linejoin="round" stroke-linecap="round" stroke-dasharray="6 6"/>
<polyline points="59.2,385.8 62.2,380.5 65.3,367.8 68.3,351.2 71.3,347.8 74.5,370.8 77.5,382.8 80.5,384.2 83.7,396.2 86.7,407.2" fill="none" stroke="#000" stroke-width="2.25" stroke-linejoin="round" stroke-linecap="round"/>
<path d="M58.2 58.95H1170.2" stroke="#8a8a8a" stroke-width="1.7"/>
<path d="M1169.55 58.1V526.6" stroke="#505050" stroke-width="1.3"/>
<path d="M59.0 58.1V526.6" stroke="#505050" stroke-width="1.6"/>
<path d="M58.2 526.45H1170.2" stroke="#1e1e1e" stroke-width="1.2"/>
<path d="M51.6 76.2H59.2M51.6 119.5H59.2M51.6 162.8H59.2M51.6 206.1H59.2M51.6 249.4H59.2M51.6 292.7H59.2M51.6 336.0H59.2M51.6 379.3H59.2M51.6 422.6H59.2M51.6 465.9H59.2M51.6 509.2H59.2" stroke="#333" stroke-width="1.1"/>
<path d="M59.20 526.6V534M62.25 526.6V534M65.30 526.6V534M68.35 526.6V534M71.41 526.6V534M74.46 526.6V534M77.51 526.6V534M80.56 526.6V534M83.61 526.6V534M86.66 526.6V534M89.72 526.6V534M92.77 526.6V534M95.82 526.6V534M98.87 526.6V534M101.92 526.6V534M104.97 526.6V534M108.03 526.6V534M111.08 526.6V534M114.13 526.6V534M117.18 526.6V534M120.23 526.6V534M123.28 526.6V534M126.34 526.6V534M129.39 526.6V534M132.44 526.6V534M135.49 526.6V534M138.54 526.6V534M141.59 526.6V534M144.65 526.6V534M147.70 526.6V534M150.75 526.6V534M153.80 526.6V534M156.85 526.6V534M159.90 526.6V534M162.96 526.6V534M166.01 526.6V534M169.06 526.6V534M172.11 526.6V534M175.16 526.6V534M178.21 526.6V534M181.27 526.6V534M184.32 526.6V534M187.37 526.6V534M190.42 526.6V534M193.47 526.6V534M196.52 526.6V534M199.58 526.6V534M202.63 526.6V534M205.68 526.6V534M208.73 526.6V534M211.78 526.6V534M214.83 526.6V534M217.89 526.6V534M220.94 526.6V534M223.99 526.6V534M227.04 526.6V534M230.09 526.6V534M233.14 526.6V534M236.20 526.6V534M239.25 526.6V534M242.30 526.6V534M245.35 526.6V534M248.40 526.6V534M251.45 526.6V534M254.51 526.6V534M257.56 526.6V534M260.61 526.6V534M263.66 526.6V534M266.71 526.6V534M269.76 526.6V534M272.82 526.6V534M275.87 526.6V534M278.92 526.6V534M281.97 526.6V534M285.02 526.6V534M288.07 526.6V534M291.13 526.6V534M294.18 526.6V534M297.23 526.6V534M300.28 526.6V534M303.33 526.6V534M306.38 526.6V534M309.44 526.6V534M312.49 526.6V534M315.54 526.6V534M318.59 526.6V534M321.64 526.6V534M324.69 526.6V534M327.75 526.6V534M330.80 526.6V534M333.85 526.6V534M336.90 526.6V534M339.95 526.6V534M343.00 526.6V534M346.05 526.6V534M349.11 526.6V534M352.16 526.6V534M355.21 526.6V534M358.26 526.6V534M361.31 526.6V534M364.36 526.6V534M367.42 526.6V534M370.47 526.6V534M373.52 526.6V534M376.57 526.6V534M379.62 526.6V534M382.67 526.6V534M385.73 526.6V534M388.78 526.6V534M391.83 526.6V534M394.88 526.6V534M397.93 526.6V534M400.98 526.6V534M404.04 526.6V534M407.09 526.6V534M410.14 526.6V534M413.19 526.6V534M416.24 526.6V534M419.29 526.6V534M422.35 526.6V534M425.40 526.6V534M428.45 526.6V534M431.50 526.6V534M434.55 526.6V534M437.60 526.6V534M440.66 526.6V534M443.71 526.6V534M446.76 526.6V534M449.81 526.6V534M452.86 526.6V534M455.91 526.6V534M458.97 526.6V534M462.02 526.6V534M465.07 526.6V534M468.12 526.6V534M471.17 526.6V534M474.22 526.6V534M477.28 526.6V534M480.33 526.6V534M483.38 526.6V534M486.43 526.6V534M489.48 526.6V534M492.53 526.6V534M495.59 526.6V534M498.64 526.6V534M501.69 526.6V534M504.74 526.6V534M507.79 526.6V534M510.84 526.6V534M513.90 526.6V534M516.95 526.6V534M520.00 526.6V534M523.05 526.6V534M526.10 526.6V534M529.15 526.6V534M532.21 526.6V534M535.26 526.6V534M538.31 526.6V534M541.36 526.6V534M544.41 526.6V534M547.46 526.6V534M550.52 526.6V534M553.57 526.6V534M556.62 526.6V534M559.67 526.6V534M562.72 526.6V534M565.77 526.6V534M568.83 526.6V534M571.88 526.6V534M574.93 526.6V534M577.98 526.6V534M581.03 526.6V534M584.08 526.6V534M587.14 526.6V534M590.19 526.6V534M593.24 526.6V534M596.29 526.6V534M599.34 526.6V534M602.39 526.6V534M605.45 526.6V534M608.50 526.6V534M611.55 526.6V534M614.60 526.6V534M617.65 526.6V534M620.70 526.6V534M623.75 526.6V534M626.81 526.6V534M629.86 526.6V534M632.91 526.6V534M635.96 526.6V534M639.01 526.6V534M642.06 526.6V534M645.12 526.6V534M648.17 526.6V534M651.22 526.6V534M654.27 526.6V534M657.32 526.6V534M660.37 526.6V534M663.43 526.6V534M666.48 526.6V534M669.53 526.6V534M672.58 526.6V534M675.63 526.6V534M678.68 526.6V534M681.74 526.6V534M684.79 526.6V534M687.84 526.6V534M690.89 526.6V534M693.94 526.6V534M696.99 526.6V534M700.05 526.6V534M703.10 526.6V534M706.15 526.6V534M709.20 526.6V534M712.25 526.6V534M715.30 526.6V534M718.36 526.6V534M721.41 526.6V534M724.46 526.6V534M727.51 526.6V534M730.56 526.6V534M733.61 526.6V534M736.67 526.6V534M739.72 526.6V534M742.77 526.6V534M745.82 526.6V534M748.87 526.6V534M751.92 526.6V534M754.98 526.6V534M758.03 526.6V534M761.08 526.6V534M764.13 526.6V534M767.18 526.6V534M770.23 526.6V534M773.29 526.6V534M776.34 526.6V534M779.39 526.6V534M782.44 526.6V534M785.49 526.6V534M788.54 526.6V534M791.60 526.6V534M794.65 526.6V534M797.70 526.6V534M800.75 526.6V534M803.80 526.6V534M806.85 526.6V534M809.91 526.6V534M812.96 526.6V534M816.01 526.6V534M819.06 526.6V534M822.11 526.6V534M825.16 526.6V534M828.22 526.6V534M831.27 526.6V534M834.32 526.6V534M837.37 526.6V534M840.42 526.6V534M843.47 526.6V534M846.53 526.6V534M849.58 526.6V534M852.63 526.6V534M855.68 526.6V534M858.73 526.6V534M861.78 526.6V534M864.84 526.6V534M867.89 526.6V534M870.94 526.6V534M873.99 526.6V534M877.04 526.6V534M880.09 526.6V534M883.15 526.6V534M886.20 526.6V534M889.25 526.6V534M892.30 526.6V534M895.35 526.6V534M898.40 526.6V534M901.45 526.6V534M904.51 526.6V534M907.56 526.6V534M910.61 526.6V534M913.66 526.6V534M916.71 526.6V534M919.76 526.6V534M922.82 526.6V534M925.87 526.6V534M928.92 526.6V534M931.97 526.6V534M935.02 526.6V534M938.07 526.6V534M941.13 526.6V534M944.18 526.6V534M947.23 526.6V534M950.28 526.6V534M953.33 526.6V534M956.38 526.6V534M959.44 526.6V534M962.49 526.6V534M965.54 526.6V534M968.59 526.6V534M971.64 526.6V534M974.69 526.6V534M977.75 526.6V534M980.80 526.6V534M983.85 526.6V534M986.90 526.6V534M989.95 526.6V534M993.00 526.6V534M996.06 526.6V534M999.11 526.6V534M1002.16 526.6V534M1005.21 526.6V534M1008.26 526.6V534M1011.31 526.6V534M1014.37 526.6V534M1017.42 526.6V534M1020.47 526.6V534M1023.52 526.6V534M1026.57 526.6V534M1029.62 526.6V534M1032.68 526.6V534M1035.73 526.6V534M1038.78 526.6V534M1041.83 526.6V534M1044.88 526.6V534M1047.93 526.6V534M1050.99 526.6V534M1054.04 526.6V534M1057.09 526.6V534M1060.14 526.6V534M1063.19 526.6V534M1066.24 526.6V534M1069.30 526.6V534M1072.35 526.6V534M1075.40 526.6V534M1078.45 526.6V534M1081.50 526.6V534M1084.55 526.6V534M1087.61 526.6V534M1090.66 526.6V534M1093.71 526.6V534M1096.76 526.6V534M1099.81 526.6V534M1102.86 526.6V534M1105.92 526.6V534M1108.97 526.6V534M1112.02 526.6V534M1115.07 526.6V534M1118.12 526.6V534M1121.17 526.6V534M1124.23 526.6V534M1127.28 526.6V534M1130.33 526.6V534M1133.38 526.6V534M1136.43 526.6V534M1139.48 526.6V534M1142.54 526.6V534M1145.59 526.6V534M1148.64 526.6V534M1151.69 526.6V534M1154.74 526.6V534M1157.79 526.6V534M1160.85 526.6V534M1163.90 526.6V534M1166.95 526.6V534M1170.00 526.6V534" stroke="#444" stroke-width="1"/>
<text transform="translate(41.9,76.2) rotate(-90)" text-anchor="middle" font-size="9.4">10</text>
<text transform="translate(41.9,119.5) rotate(-90)" text-anchor="middle" font-size="9.4">5</text>
<text transform="translate(41.9,162.8) rotate(-90)" text-anchor="middle" font-size="9.4">0</text>
<text transform="translate(41.9,206.1) rotate(-90)" text-anchor="middle" font-size="9.4">-5</text>
<text transform="translate(41.9,249.4) rotate(-90)" text-anchor="middle" font-size="9.4">-10</text>
<text transform="translate(41.9,292.7) rotate(-90)" text-anchor="middle" font-size="9.4">-15</text>
<text transform="translate(41.9,336.0) rotate(-90)" text-anchor="middle" font-size="9.4">-20</text>
<text transform="translate(41.9,379.3) rotate(-90)" text-anchor="middle" font-size="9.4">-25</text>
<text transform="translate(41.9,422.6) rotate(-90)" text-anchor="middle" font-size="9.4">-30</text>
<text transform="translate(41.9,465.9) rotate(-90)" text-anchor="middle" font-size="9.4">-35</text>
<text transform="translate(41.9,509.2) rotate(-90)" text-anchor="middle" font-size="9.4">-40</text>
<text x="58.7" y="552.3" text-anchor="middle" font-size="8.8" letter-spacing="-0.2">sty 01</text>
<text x="89.2" y="552.3" text-anchor="middle" font-size="8.8" letter-spacing="-0.2">sty 11</text>
<text x="119.7" y="552.3" text-anchor="middle" font-size="8.8" letter-spacing="-0.2">sty 21</text>
<text x="150.2" y="552.3" text-anchor="middle" font-size="8.8" letter-spacing="-0.2">sty 31</text>
<text x="180.8" y="552.3" text-anchor="middle" font-size="8.8" letter-spacing="-0.2">lut 10</text>
<text x="211.3" y="552.3" text-anchor="middle" font-size="8.8" letter-spacing="-0.2">lut 20</text>
<text x="244.9" y="552.3" text-anchor="middle" font-size="8.8" letter-spacing="-0.2">mar 03</text>
<text x="281.5" y="552.3" text-anchor="middle" font-size="8.8" letter-spacing="-0.2">mar 15</text>
<text x="318.1" y="552.3" text-anchor="middle" font-size="8.8" letter-spacing="-0.2">mar 27</text>
<text x="351.7" y="552.3" text-anchor="middle" font-size="8.8" letter-spacing="-0.2">kwi 07</text>
<text x="385.2" y="552.3" text-anchor="middle" font-size="8.8" letter-spacing="-0.2">kwi 18</text>
<text x="418.8" y="552.3" text-anchor="middle" font-size="8.8" letter-spacing="-0.2">kwi 29</text>
<text x="452.4" y="552.3" text-anchor="middle" font-size="8.8" letter-spacing="-0.2">maj 10</text>
<text x="485.9" y="552.3" text-anchor="middle" font-size="8.8" letter-spacing="-0.2">maj 21</text>
<text x="519.5" y="552.3" text-anchor="middle" font-size="8.8" letter-spacing="-0.2">cze 01</text>
<text x="553.1" y="552.3" text-anchor="middle" font-size="8.8" letter-spacing="-0.2">cze 12</text>
<text x="586.6" y="552.3" text-anchor="middle" font-size="8.8" letter-spacing="-0.2">cze 23</text>
<text x="617.2" y="552.3" text-anchor="middle" font-size="8.8" letter-spacing="-0.2">lip 03</text>
<text x="647.7" y="552.3" text-anchor="middle" font-size="8.8" letter-spacing="-0.2">lip 13</text>
<text x="678.2" y="552.3" text-anchor="middle" font-size="8.8" letter-spacing="-0.2">lip 23</text>
<text x="708.7" y="552.3" text-anchor="middle" font-size="8.8" letter-spacing="-0.2">sie 02</text>
<text x="739.2" y="552.3" text-anchor="middle" font-size="8.8" letter-spacing="-0.2">sie 12</text>
<text x="769.7" y="552.3" text-anchor="middle" font-size="8.8" letter-spacing="-0.2">sie 22</text>
<text x="803.3" y="552.3" text-anchor="middle" font-size="8.8" letter-spacing="-0.2">wrz 02</text>
<text x="836.9" y="552.3" text-anchor="middle" font-size="8.8" letter-spacing="-0.2">wrz 13</text>
<text x="870.4" y="552.3" text-anchor="middle" font-size="8.8" letter-spacing="-0.2">wrz 24</text>
<text x="904.0" y="552.3" text-anchor="middle" font-size="8.8" letter-spacing="-0.2">paź 05</text>
<text x="937.6" y="552.3" text-anchor="middle" font-size="8.8" letter-spacing="-0.2">paź 16</text>
<text x="971.1" y="552.3" text-anchor="middle" font-size="8.8" letter-spacing="-0.2">paź 27</text>
<text x="1001.7" y="552.3" text-anchor="middle" font-size="8.8" letter-spacing="-0.2">lis 06</text>
<text x="1029.1" y="552.3" text-anchor="middle" font-size="8.8" letter-spacing="-0.2">lis 15</text>
<text x="1056.6" y="552.3" text-anchor="middle" font-size="8.8" letter-spacing="-0.2">lis 24</text>
<text x="1087.1" y="552.3" text-anchor="middle" font-size="8.8" letter-spacing="-0.2">gru 04</text>
<text x="1120.7" y="552.3" text-anchor="middle" font-size="8.8" letter-spacing="-0.2">gru 15</text>
<text x="1154.2" y="552.3" text-anchor="middle" font-size="8.8" letter-spacing="-0.2">gru 26</text>
<text x="601.3" y="580.8" font-size="11.5" textLength="25.6" lengthAdjust="spacingAndGlyphs" style="fill:#111">Data</text>
<text transform="translate(13.4,326.7) rotate(-90)" font-size="11.5" textLength="68" lengthAdjust="spacingAndGlyphs" style="fill:#111">Temperatura</text>
<text class="m" x="59" y="19.0" font-size="15.2" textLength="318.3" lengthAdjust="spacingAndGlyphs">Przebieg temperatury w roku 2026</text>
<text class="m" x="59.5" y="40.2" font-size="15.2" textLength="340.5" lengthAdjust="spacingAndGlyphs">Region: Morze Wschodniosyberyjskie</text>
<text class="m" x="896.5" y="18.6" font-size="15.2" textLength="276" lengthAdjust="spacingAndGlyphs">Dane: Reanaliza ERA5 (ECMWF)</text>
<text class="m" x="997.3" y="37.7" font-size="9.2" textLength="161.4" lengthAdjust="spacingAndGlyphs" style="fill:#555">Wizualizacja: Meteomodel.pl</text>
<text class="m" x="387.2" y="53.8" font-size="10.6" textLength="452.8" lengthAdjust="spacingAndGlyphs">Ostatnie dane: 2026-01-10 (-28.2°C, anomalia (1981-2010): -2.4°C)</text>
<path d="M96.8 82.0H151.8" stroke="#000" stroke-width="2.05" stroke-linecap="round"/>
<text x="161.7" y="86.0" font-size="11.4" textLength="28.3" lengthAdjust="spacingAndGlyphs" style="fill:#111">2022</text>
<path d="M96.8 96.5H151.8" stroke="#3838ff" stroke-width="1" stroke-linecap="round"/>
<text x="161.7" y="100.5" font-size="11.4" textLength="60.5" lengthAdjust="spacingAndGlyphs" style="fill:#111">1981-1990</text>
<path d="M96.8 110.6H151.8" stroke="#5a9e5a" stroke-width="1.25" stroke-linecap="round"/>
<text x="161.7" y="115.0" font-size="11.4" textLength="60.5" lengthAdjust="spacingAndGlyphs" style="fill:#111">1991-2000</text>
<path d="M96.8 125.5H151.8" stroke="#ffd030" stroke-width="1" stroke-linecap="round"/>
<text x="161.7" y="129.5" font-size="11.4" textLength="60.5" lengthAdjust="spacingAndGlyphs" style="fill:#111">2001-2010</text>
<path d="M96.8 139.5H151.8" stroke="#ff3838" stroke-width="1" stroke-linecap="round"/>
<text x="161.7" y="143.9" font-size="11.4" textLength="58.2" lengthAdjust="spacingAndGlyphs" style="fill:#111">2011-2020</text>
<path d="M97.4 154.0H151.8" stroke="#ff2020" stroke-width="1.8" stroke-linecap="round" stroke-dasharray="6 6"/>
<text x="161.7" y="158.0" font-size="11.4" textLength="60.5" lengthAdjust="spacingAndGlyphs" style="fill:#111">1991-2020</text>
<path d="M97.4 168.5H151.8" stroke="#0000ff" stroke-width="1.5" stroke-linecap="round" stroke-dasharray="6 6"/>
<text x="161.7" y="172.5" font-size="11.4" textLength="60.5" lengthAdjust="spacingAndGlyphs" style="fill:#111">1951-1980</text>
<path d="M97.6 183.0H150.4" stroke="#e6e6e6" stroke-width="5.4" stroke-linecap="round"/>
<text x="161.7" y="187.0" font-size="11.4" textLength="110.0" lengthAdjust="spacingAndGlyphs" style="fill:#111">max-min 1950-2021</text>
</svg></body></html>
